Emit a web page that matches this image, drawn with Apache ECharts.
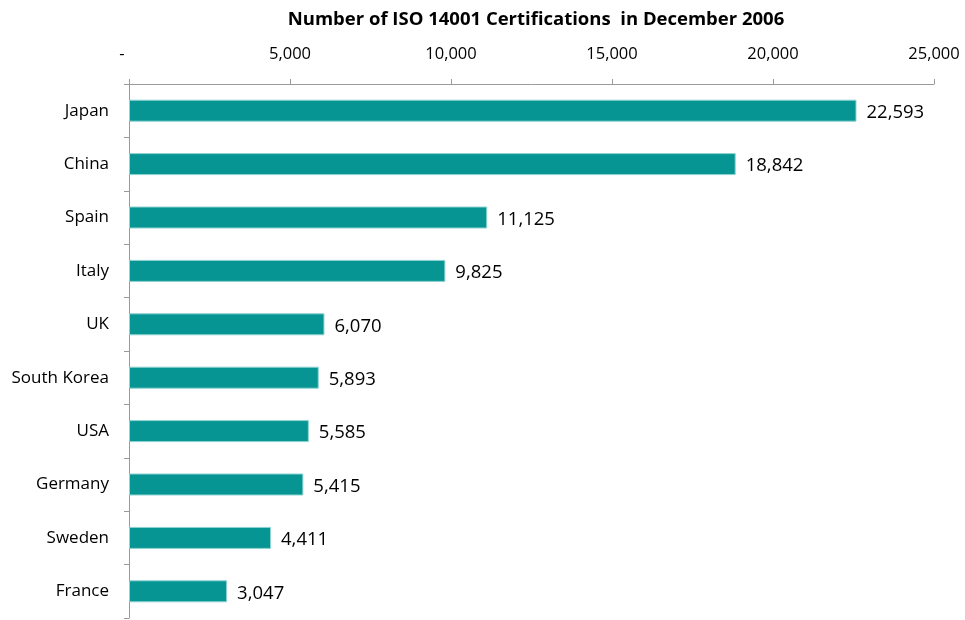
<!DOCTYPE html>
<html>
<head>
<meta charset="utf-8">
<script src="https://cdn.jsdelivr.net/npm/echarts@6/dist/echarts.min.js"></script>
<style>html,body{margin:0;padding:0;background:#fff;}#c{width:965px;height:620px;}</style>
</head>
<body>
<div id="c"></div>
<script>
const titleText = 'Number of ISO 14001 Certifications  in December 2006';
const countries = ['Japan','China','Spain','Italy','UK','South Korea','USA','Germany','Sweden','France'];
const certifications = [22593,18842,11125,9825,6070,5893,5585,5415,4411,3047];
const axisMin = 0, axisMax = 25000, axisStep = 5000;

const chart = echarts.init(document.getElementById('c'));
const fontFam = '"Open Sans", "Noto Sans", sans-serif';
chart.setOption({
  animation: false,
  title: {
    text: titleText, left: 531, textAlign: 'center', top: 5,
    textStyle: {fontFamily: fontFam, fontSize: 18.5, fontWeight: 'bold', color: '#000'}
  },
  grid: {left: 129, right: 31, top: 84, bottom: 2, containLabel: false},
  xAxis: {
    type: 'value', position: 'top', min: axisMin, max: axisMax, interval: axisStep,
    axisLine: {show: true, lineStyle: {color: '#9a9a9a', width: 1}},
    axisTick: {show: true, length: 5, lineStyle: {color: '#9a9a9a'}},
    splitLine: {show: false},
    axisLabel: {
      margin: 21, fontFamily: fontFam, fontSize: 16.5, color: '#000',
      formatter: v => v === 0 ? '{d|-}' : v.toLocaleString('en-US'),
      rich: {d: {fontFamily: fontFam, fontSize: 16.5, color: '#000', padding: [0, 14, 0, 0]}}
    }
  },
  yAxis: {
    type: 'category', inverse: true, data: countries,
    axisLine: {show: true, lineStyle: {color: '#9a9a9a', width: 1}},
    axisTick: {show: true, length: 5, lineStyle: {color: '#9a9a9a'}},
    axisLabel: {margin: 20, fontFamily: fontFam, fontSize: 17, color: '#000'}
  },
  series: [{
    type: 'bar', data: certifications, barWidth: 22,
    itemStyle: {color: '#079593', borderColor: '#8fd3d2', borderWidth: 1},
    label: {
      show: true, position: 'right', distance: 10, offset: [0, 2],
      fontFamily: fontFam, fontSize: 18.5, color: '#000',
      formatter: p => p.value.toLocaleString('en-US')
    }
  }]
});
</script>
</body>
</html>
